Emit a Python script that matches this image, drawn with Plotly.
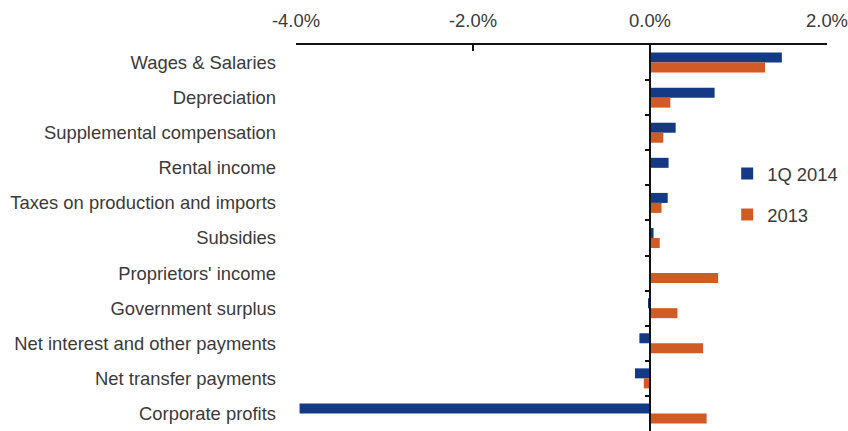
import plotly.graph_objects as go

categories = [
    "Wages & Salaries",
    "Depreciation",
    "Supplemental compensation",
    "Rental income",
    "Taxes on production and imports",
    "Subsidies",
    "Proprietors' income",
    "Government surplus",
    "Net interest and other payments",
    "Net transfer payments",
    "Corporate profits",
]
q1_2014 = [1.49, 0.73, 0.29, 0.21, 0.20, 0.04, 0.00, -0.02, -0.12, -0.17, -3.96]
y2013 = [1.30, 0.23, 0.15, 0.00, 0.13, 0.11, 0.77, 0.31, 0.60, -0.07, 0.64]

x_tickvals = [-4, -2, 0, 2]
x_ticktext = ["-4.0%", "-2.0%", "0.0%", "2.0%"]

boundaries = [i + 0.5 for i in range(len(categories) - 1)]

FONT = "Liberation Sans, Arial, sans-serif"
TXT = "#3a3a3a"
FS = 18.4

fig = go.Figure()
fig.add_trace(go.Bar(
    y=categories, x=q1_2014, orientation="h", name="1Q 2014",
    marker=dict(color="#153A85", line=dict(width=0)),
    legendgroup="a",
))
fig.add_trace(go.Bar(
    y=categories, x=y2013, orientation="h", name="2013",
    marker=dict(color="#D05B24", line=dict(width=0)),
    legendgroup="b",
))
# helper (invisible) trace so the category-boundary tick axis at zero is drawn
fig.add_trace(go.Scatter(
    x=[0] * len(boundaries), y=boundaries, yaxis="y2", mode="markers",
    marker=dict(opacity=0), showlegend=False, hoverinfo="skip",
))

fig.update_layout(
    width=848, height=431,
    margin=dict(l=296, r=17, t=45, b=0),
    paper_bgcolor="white", plot_bgcolor="white",
    barmode="group", bargap=0.43, bargroupgap=0,
    font=dict(family=FONT, size=FS, color=TXT),
    xaxis=dict(
        side="top", range=[-4, 2], tickvals=x_tickvals, ticktext=x_ticktext,
        showgrid=False, zeroline=False, showline=True, linecolor="#111",
        linewidth=1.5, ticks="inside", ticklen=6, tickcolor="#111", tickwidth=1.5,
        tickfont=dict(size=FS, color=TXT), ticklabelstandoff=9,
        ticklabeloverflow="allow",
    ),
    yaxis=dict(
        type="category", categoryorder="array", categoryarray=categories,
        range=[10.5, -0.5], showgrid=False, zeroline=False, showline=False,
        ticks="", ticklabelstandoff=19, tickfont=dict(size=FS, color=TXT),
    ),
    yaxis2=dict(
        overlaying="y", anchor="free", position=4 / 6, side="left",
        range=[10.5, -0.5], tickvals=boundaries, showticklabels=False,
        ticks="outside", ticklen=4, tickcolor="#111", tickwidth=1.5,
        showline=True, linecolor="#111", linewidth=2, showgrid=False, zeroline=False,
    ),
    legend=dict(
        x=0.812, y=0.715, xanchor="left", yanchor="top",
        font=dict(size=FS, color=TXT), tracegroupgap=14,
        itemwidth=30, bgcolor="rgba(0,0,0,0)",
    ),
    showlegend=True,
)

fig.write_html("out.html")
